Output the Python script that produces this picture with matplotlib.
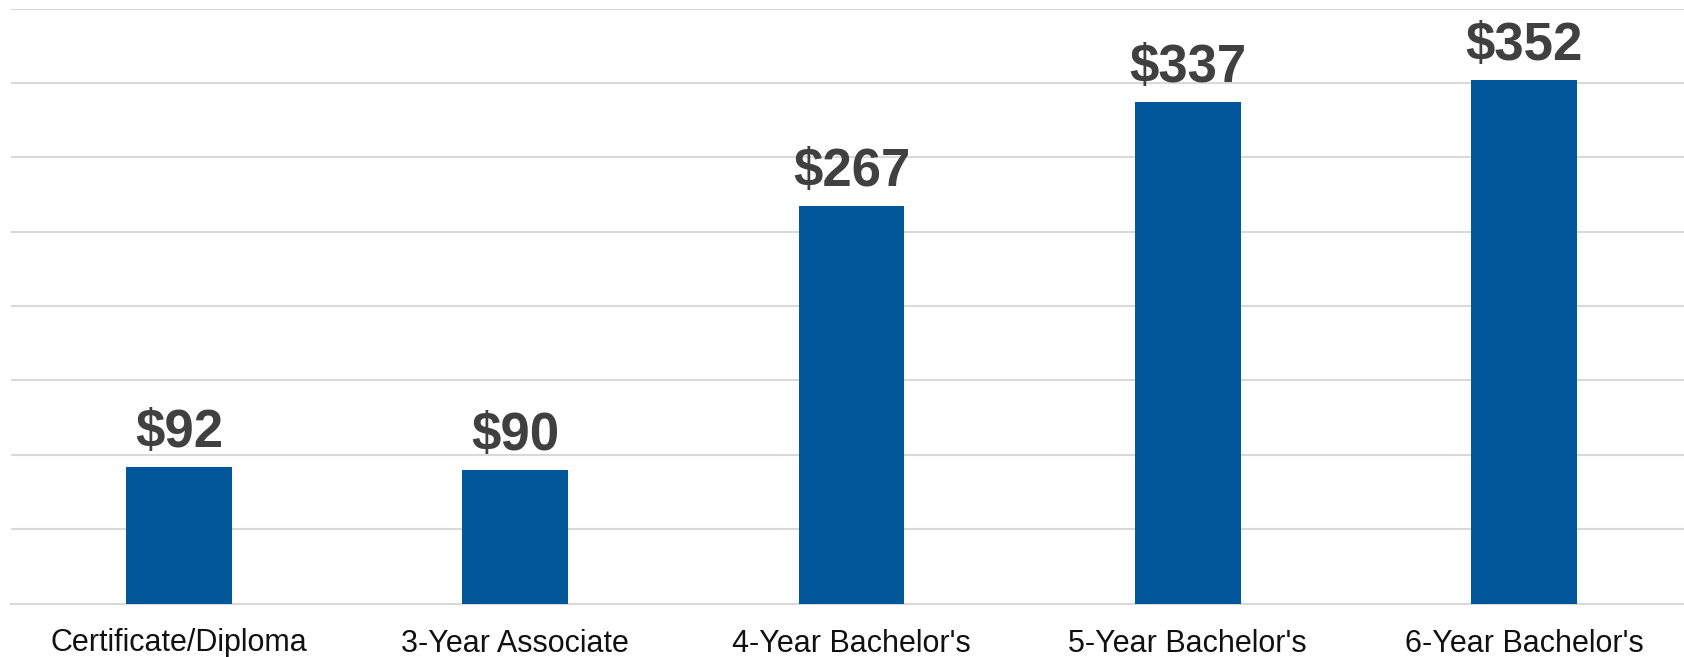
import matplotlib.pyplot as plt

# Median value by credential type
categories = ['Certificate/Diploma', '3-Year Associate', "4-Year Bachelor's",
              "5-Year Bachelor's", "6-Year Bachelor's"]
values = [92, 90, 267, 337, 352]
value_labels = ['$92', '$90', '$267', '$337', '$352']

plt.rcParams['font.family'] = ['Liberation Sans', 'DejaVu Sans']

fig = plt.figure(figsize=(16.84, 6.57), dpi=100)
ax = fig.add_axes([11 / 1684, 53.5 / 657, 1673 / 1684, 595 / 657])

x = range(len(categories))
bars = ax.bar(x, values, width=0.315, color='#02569A', zorder=3)

for b, lab in zip(bars, value_labels):
    ax.text(b.get_x() + b.get_width() / 2, b.get_height() + 6, lab,
            ha='center', va='bottom', fontsize=38, fontweight='bold',
            color='#404040')

ax.set_ylim(0, 400)
ax.set_xlim(-0.5, 4.5 - 8 / 336)
ax.set_yticks(range(0, 401, 50))
ax.yaxis.grid(True, color='#d9d9d9', linewidth=1.5, zorder=0)
ax.tick_params(axis='y', left=False, labelleft=False)
ax.tick_params(axis='x', length=0, pad=18, labelsize=22, labelcolor='#111111')
ax.set_xticks(list(x))
ax.set_xticklabels(categories)
for s in ['top', 'right', 'left']:
    ax.spines[s].set_visible(False)
ax.spines['bottom'].set_color('#d9d9d9')
ax.spines['bottom'].set_linewidth(1.5)

fig.savefig('out.png', dpi=100)
